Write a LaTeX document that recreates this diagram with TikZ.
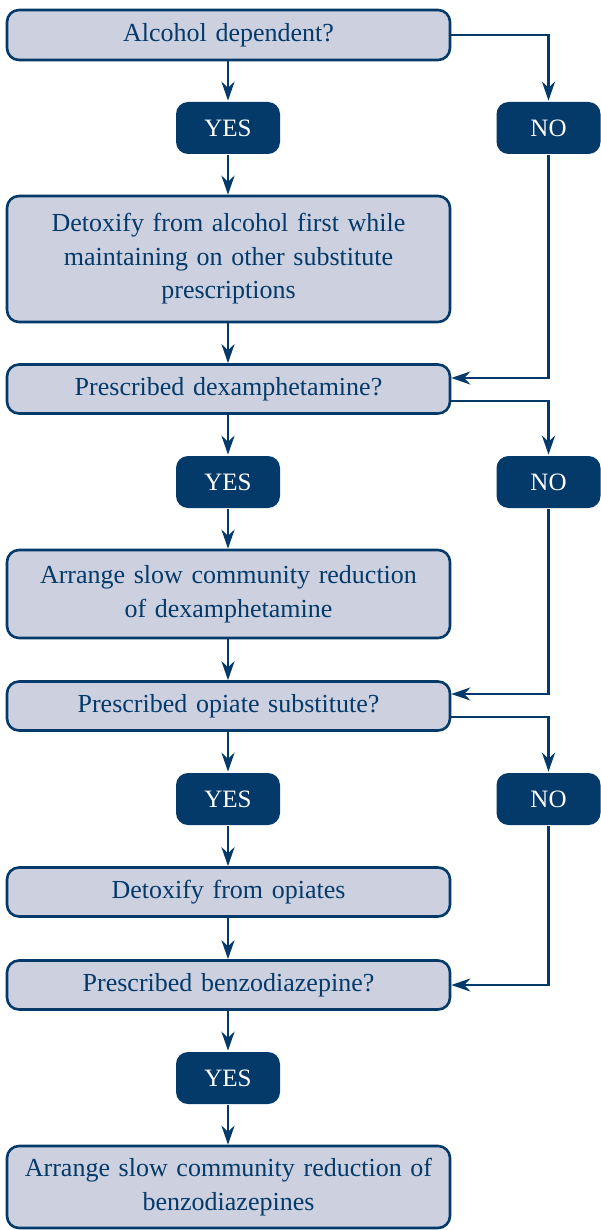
\documentclass[tikz,border=0pt]{standalone}
\usepackage{fontspec}
\setmainfont{Liberation Serif}
\usetikzlibrary{arrows.meta}
\definecolor{navyblue}{RGB}{3,58,106}
\definecolor{paleblue}{RGB}{205,208,223}

\begin{document}
\begin{tikzpicture}[x=1pt, y=-1pt,
    >={Stealth[length=19pt,width=13pt,inset=6pt]},
    every path/.style={line width=2.6pt},
    qbox/.style={draw=navyblue, fill=paleblue, text=navyblue, rounded corners=12pt,
      minimum width=443pt, text width=436pt, align=center, inner sep=0pt,
      font=\fontsize{26}{33.5}\selectfont},
    answer/.style={fill=navyblue, text=white, rounded corners=12pt,
      minimum width=104pt, minimum height=52pt, inner sep=0pt,
      font=\fontsize{25}{28}\selectfont},
    link/.style={draw=navyblue, ->}]
  \useasboundingbox (0,0) rectangle (600,1230);
  % questions and actions
  \node[qbox, minimum height=50pt] (alcohol) at (228.5,35) {Alcohol dependent?};
  \node[qbox, minimum height=126pt] (detoxalc) at (228.5,259) {Detoxify from alcohol first while\\ maintaining on other substitute\\ prescriptions};
  \node[qbox, minimum height=49pt] (dexq) at (228.5,389) {Prescribed dexamphetamine?};
  \node[qbox, minimum height=88pt] (dexred) at (228.5,594) {Arrange slow community reduction\\ of dexamphetamine};
  \node[qbox, minimum height=49pt] (opiq) at (228.5,706) {Prescribed opiate substitute?};
  \node[qbox, minimum height=49pt] (detoxopi) at (228.5,892) {Detoxify from opiates};
  \node[qbox, minimum height=49pt] (benzq) at (228.5,985) {Prescribed benzodiazepine?};
  \node[qbox, minimum height=82pt] (benzred) at (228.5,1187) {Arrange slow community reduction of\\ benzodiazepines};
  % answers
  \node[answer] (yes1) at (228,128) {YES};
  \node[answer] (no1) at (548.5,128) {NO};
  \node[answer] (yes2) at (228,482) {YES};
  \node[answer] (no2) at (548.5,482) {NO};
  \node[answer] (yes3) at (228,799) {YES};
  \node[answer] (no3) at (548.5,799) {NO};
  \node[answer] (yes4) at (228,1078) {YES};
  % yes branch
  \draw[link] (alcohol.south -| yes1) -- (yes1.north);
  \draw[link] (yes1) -- (detoxalc.north -| yes1);
  \draw[link] (detoxalc.south -| yes1) -- (dexq.north -| yes1);
  \draw[link] (dexq.south -| yes2) -- (yes2.north);
  \draw[link] (yes2) -- (dexred.north -| yes2);
  \draw[link] (dexred.south -| yes2) -- (opiq.north -| yes2);
  \draw[link] (opiq.south -| yes3) -- (yes3.north);
  \draw[link] (yes3) -- (detoxopi.north -| yes3);
  \draw[link] (detoxopi.south -| yes3) -- (benzq.north -| yes3);
  \draw[link] (benzq.south -| yes4) -- (yes4.north);
  \draw[link] (yes4) -- (benzred.north -| yes4);
  % no branch
  \draw[link] (alcohol.east) -| (no1.north);
  \draw[link] (no1.south) |- ([yshift=11pt]dexq.east);
  \draw[link] ([yshift=-12pt]dexq.east) -| (no2.north);
  \draw[link] (no2.south) |- ([yshift=12pt]opiq.east);
  \draw[link] ([yshift=-11pt]opiq.east) -| (no3.north);
  \draw[link] (no3.south) |- (benzq.east);
\end{tikzpicture}
\end{document}
